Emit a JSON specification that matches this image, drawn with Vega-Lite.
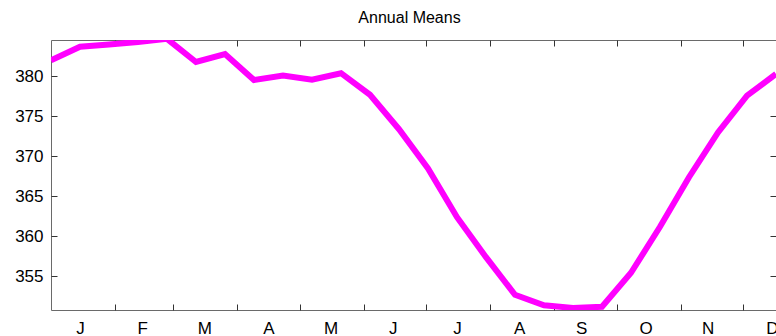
{
  "$schema": "https://vega.github.io/schema/vega-lite/v6.json",
  "width": 725,
  "height": 270,
  "autosize": "none",
  "padding": {"left": 51, "top": 40, "right": 0, "bottom": 26},
  "background": "white",
  "title": {"text": "Annual Means", "fontSize": 16, "font": "Liberation Sans", "fontWeight": "normal", "color": "black", "offset": 14, "dx": -4},
  "config": {
    "view": {"stroke": "#6a6a6a", "strokeWidth": 1},
    "axis": {"domain": false, "grid": false, "labelFont": "Liberation Sans", "labelFontSize": 17, "labelColor": "black", "tickColor": "#333", "tickWidth": 1, "title": null}
  },
  "data": {"values": [
    {"day": 0, "co2": 382.0},
    {"day": 14, "co2": 383.7},
    {"day": 28, "co2": 384.0},
    {"day": 42, "co2": 384.3},
    {"day": 56, "co2": 384.7},
    {"day": 70, "co2": 381.8},
    {"day": 84, "co2": 382.8},
    {"day": 98, "co2": 379.55},
    {"day": 112, "co2": 380.1},
    {"day": 126, "co2": 379.6},
    {"day": 140, "co2": 380.4},
    {"day": 154, "co2": 377.7},
    {"day": 168, "co2": 373.4},
    {"day": 182, "co2": 368.5},
    {"day": 196, "co2": 362.4},
    {"day": 210, "co2": 357.4},
    {"day": 224, "co2": 352.7},
    {"day": 238, "co2": 351.4},
    {"day": 252, "co2": 351.05},
    {"day": 266, "co2": 351.2},
    {"day": 280, "co2": 355.45},
    {"day": 294, "co2": 361.2},
    {"day": 308, "co2": 367.4},
    {"day": 322, "co2": 373.0},
    {"day": 336, "co2": 377.6},
    {"day": 350, "co2": 380.3}
  ]},
  "layer": [
    {
      "mark": {"type": "line", "color": "#ff00ff", "strokeWidth": 6, "clip": true},
      "encoding": {
        "x": {"field": "day", "type": "quantitative", "scale": {"domain": [0, 350], "nice": false, "zero": false},
          "axis": {"orient": "bottom", "values": [14,31,44,59,74,90,105,120,135,151,165,181,196,212,226,243,256,273,287,304,317,334,348],
            "labelExpr": "indexof([14,44,74,105,135,165,196,226,256,287,317,348], datum.value) >= 0 ? substring('JFMAMJJASOND', indexof([14,44,74,105,135,165,196,226,256,287,317,348], datum.value), indexof([14,44,74,105,135,165,196,226,256,287,317,348], datum.value) + 1) : ''",
            "labelOverlap": false, "labelFlush": false, "tickSize": -6, "labelPadding": 16,
            "tickOpacity": {"condition": {"test": "indexof([31,59,90,120,151,181,212,243,273,304,334], datum.value) >= 0", "value": 1}, "value": 0}}},
        "y": {"field": "co2", "type": "quantitative", "scale": {"domain": [350.8, 384.55], "nice": false, "zero": false},
          "axis": {"orient": "left", "values": [355,360,365,370,375,380], "tickSize": -6, "labelPadding": 14}}
      }
    },
    {
      "mark": {"type": "line", "strokeOpacity": 0, "clip": true},
      "encoding": {
        "x": {"field": "day", "type": "quantitative",
          "axis": {"orient": "top", "values": [31,59,90,120,151,181,212,243,273,304,334], "labels": false, "tickSize": -6}},
        "y": {"field": "co2", "type": "quantitative",
          "axis": {"orient": "right", "values": [355,360,365,370,375,380], "labels": false, "tickSize": -6}}
      }
    }
  ],
  "resolve": {"axis": {"x": "independent", "y": "independent"}}
}
